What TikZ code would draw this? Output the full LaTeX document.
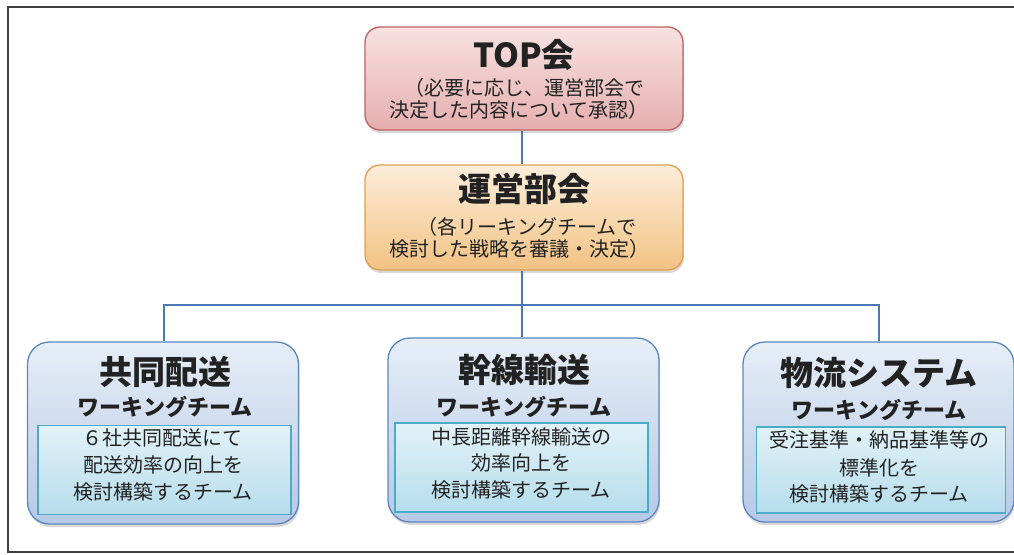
\documentclass[tikz,border=0pt]{standalone}
\usepackage{fontspec}
\newfontfamily\jp{Noto Sans CJK JP}
\usetikzlibrary{shadows}
\definecolor{frameC}{HTML}{404040}
\definecolor{topT}{HTML}{F8E2E2}
\definecolor{topB}{HTML}{E6AEAE}
\definecolor{topD}{HTML}{BC6262}
\definecolor{unT}{HTML}{FCEEDB}
\definecolor{unB}{HTML}{F2C283}
\definecolor{unD}{HTML}{E0A050}
\definecolor{wgT}{HTML}{E6EEF7}
\definecolor{wgB}{HTML}{B6C9E6}
\definecolor{wgD}{HTML}{5B87C0}
\definecolor{inT}{HTML}{E2F2F8}
\definecolor{inB}{HTML}{B6DDEC}
\definecolor{inD}{HTML}{4AACC6}
\definecolor{lineC}{HTML}{4A78B8}
\definecolor{txt}{HTML}{222222}
\tikzset{
  boxbase/.style={rounded corners=15pt, line width=1.3pt, inner sep=0pt,
    drop shadow={opacity=0.3, shadow xshift=1pt, shadow yshift=-3pt}},
  topbox/.style={boxbase, draw=topD, top color=topT, bottom color=topB, minimum width=318pt, minimum height=103pt},
  unbox/.style={boxbase, draw=unD, top color=unT, bottom color=unB, minimum width=318pt, minimum height=105pt},
  wgbox/.style={boxbase, rounded corners=22pt, draw=wgD, top color=wgT, bottom color=wgB, minimum width=271pt, minimum height=182pt},
  inbox/.style={draw=inD, line width=1.2pt, top color=inT, bottom color=inB, minimum width=253pt, minimum height=89pt, inner sep=0pt},
  conn/.style={draw=lineC, line width=1.8pt},
  ttl/.style={font=\jp\bfseries\fontsize{33}{36}\selectfont, text=txt, inner sep=0pt},
  sub/.style={font=\jp\bfseries\fontsize{22}{24}\selectfont, text=txt, inner sep=0pt},
  body/.style={font=\jp\fontsize{20}{22}\selectfont, text=txt, inner sep=0pt},
  bodys/.style={font=\jp\fontsize{20}{22}\selectfont, text=txt, inner sep=0pt},
}
\begin{document}
\begin{tikzpicture}[x=1pt,y=-1pt]
\useasboundingbox (0,0) rectangle (1014,554);
\draw[frameC, line width=1.6pt] (1016,7) -- (8,7) -- (8,552) -- (1016,552);

% boxes
\node[topbox] (top) at (524,78.5) {};
\node[unbox] (unei) at (524,217.5) {};
\node[wgbox] (b1) at (163,433) {};
\node[wgbox, minimum height=184pt] (b2) at (523.5,430) {};
\node[wgbox, minimum height=180pt] (b3) at (878.5,432) {};

% connectors
\coordinate (j) at (522,305);
\draw[conn] (top.south -| j) -- (unei.north -| j);
\draw[conn] (unei.south -| j) -- (j);
\draw[conn] (b1.north -| 164,0) |- (j);
\draw[conn] (j) -| (b3.north -| 879,0);
\draw[conn] (j) -- (b2.north -| j);

% inner boxes
\node[inbox] (i1) at (164.5,470) {};
\node[inbox] (i2) at (521.5,467.5) {};
\node[inbox, minimum width=249pt, minimum height=86pt] (i3) at (881,470) {};

% TOP texts
\node[ttl] (t1) at (524,55) {TOP会};
\node[bodys] (t2) at (524,88) {（必要に応じ、運営部会で};
\node[bodys] (t3) at (519,110) {決定した内容について承認）};

% unei texts
\node[ttl] (u1) at (524,189) {運営部会};
\node[bodys] (u2) at (527,227) {（各リーキングチームで};
\node[bodys] (u3) at (519,249) {検討した戦略を審議・決定）};

% WG1
\node[ttl] (a1) at (165,372) {共同配送};
\node[sub] (a2) at (165,407) {ワーキングチーム};
\node[body] (a3) at (162,438) {６社共同配送にて};
\node[body] (a4) at (163,465) {配送効率の向上を};
\node[body] (a5) at (163,492) {検討構築するチーム};

% WG2
\node[ttl] (c1) at (524,370) {幹線輸送};
\node[sub] (c2) at (524,407) {ワーキングチーム};
\node[body] (c3) at (521,437) {中長距離幹線輸送の};
\node[body] (c4) at (521,463) {効率向上を};
\node[body] (c5) at (521,490) {検討構築するチーム};

% WG3
\node[ttl] (d1) at (879,373) {物流システム};
\node[sub] (d2) at (879,410) {ワーキングチーム};
\node[body] (d3) at (879,440) {受注基準・納品基準等の};
\node[body] (d4) at (879,468) {標準化を};
\node[body] (d5) at (879,494) {検討構築するチーム};
\end{tikzpicture}
\end{document}
